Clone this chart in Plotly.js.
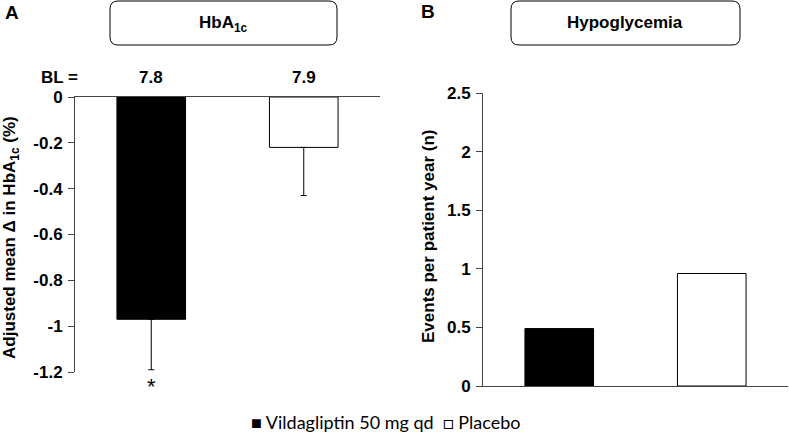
<!DOCTYPE html>
<html>
<head>
<meta charset="utf-8">
<script src="https://cdn.plot.ly/plotly-3.0.1.min.js"></script>
<style>
  html, body { margin: 0; padding: 0; background: #fff; }
  #chart { width: 789px; height: 436px; }
</style>
</head>
<body>
<div id="chart"></div>
<script>
// Data
const groups = ['Vildagliptin 50 mg qd', 'Placebo'];
const baseline = ['7.8', '7.9'];
const hba1cChange = [-0.97, -0.22];
const hba1cErr = [0.22, 0.21];
const hypoRate = [0.49, 0.96];
const barColors = ['#000000', '#ffffff'];

const W = 789, H = 436;
// pixel -> paper helpers
const px = v => v / W;
const py = v => 1 - v / H;

const FAM = 'Liberation Sans';
const tickFont = { family: FAM, size: 17, color: '#000', weight: 'bold' };
const boldFont = { family: FAM, size: 17, color: '#000', weight: 'bold' };

const traces = [
  {
    type: 'bar',
    x: groups,
    y: hba1cChange,
    xaxis: 'x', yaxis: 'y',
    marker: { color: barColors, line: { color: '#000', width: 1 } },
    error_y: {
      type: 'data', symmetric: false,
      array: [0, 0], arrayminus: hba1cErr,
      color: '#000', thickness: 1, width: 3
    },
    showlegend: false,
    hoverinfo: 'skip'
  },
  {
    type: 'bar',
    x: groups,
    y: hypoRate,
    xaxis: 'x2', yaxis: 'y2',
    marker: { color: barColors, line: { color: '#000', width: 1 } },
    showlegend: false,
    hoverinfo: 'skip'
  }
];

// rounded box given in pixels, returned in paper coords
function pathPaper(x0, y0, x1, y1, r) {
  const P = (x, y) => `${px(x)},${py(y)}`;
  return `M ${P(x0 + r, y0)} L ${P(x1 - r, y0)} Q ${P(x1, y0)} ${P(x1, y0 + r)} ` +
         `L ${P(x1, y1 - r)} Q ${P(x1, y1)} ${P(x1 - r, y1)} L ${P(x0 + r, y1)} ` +
         `Q ${P(x0, y1)} ${P(x0, y1 - r)} L ${P(x0, y0 + r)} Q ${P(x0, y0)} ${P(x0 + r, y0)} Z`;
}

const annotations = [
  { text: 'A', x: px(3), y: py(12), xanchor: 'left', yanchor: 'middle', font: { ...boldFont, size: 19 } },
  { text: 'B', x: px(419), y: py(11), xanchor: 'left', yanchor: 'middle', font: { ...boldFont, size: 19 } },
  { text: 'HbA<sub>1c</sub>', x: px(223), y: py(24), xanchor: 'center', yanchor: 'middle', font: boldFont },
  { text: 'Hypoglycemia', x: px(625), y: py(23), xanchor: 'center', yanchor: 'middle', font: boldFont },
  { text: 'BL =', x: px(80), y: py(77), xanchor: 'right', yanchor: 'middle', font: boldFont },
  { text: baseline[0], x: groups[0], y: py(77), xref: 'x', xanchor: 'center', yanchor: 'middle', font: boldFont },
  { text: baseline[1], x: groups[1], y: py(77), xref: 'x', xanchor: 'center', yanchor: 'middle', font: boldFont },
  { text: '*', x: groups[0], y: py(386), xref: 'x', xanchor: 'center', yanchor: 'middle',
    font: { family: FAM, size: 22, color: '#000' } },
  { text: 'Adjusted mean Δ in HbA<sub>1c</sub> (%)', x: px(11), y: py(238), textangle: -90,
    xanchor: 'center', yanchor: 'middle', font: { ...boldFont, size: 17 } },
  { text: 'Events per patient year (n)', x: px(428), y: py(236), textangle: -90,
    xanchor: 'center', yanchor: 'middle', font: { ...boldFont, size: 17 } },
  { text: '■ Vildagliptin 50 mg qd  □ Placebo', x: px(385), y: py(422), xanchor: 'center', yanchor: 'middle',
    font: { family: 'Lato', size: 18, color: '#000' } }
].map(a => Object.assign({ xref: 'paper', yref: 'paper', showarrow: false }, a));

const layout = {
  width: W, height: H,
  margin: { l: 0, r: 0, t: 0, b: 0 },
  paper_bgcolor: '#fff', plot_bgcolor: 'rgba(0,0,0,0)',
  bargap: 0.55,
  showlegend: false,
  xaxis: {
    domain: [px(75), px(380)], anchor: 'y', side: 'top',
    showticklabels: false, ticks: '', showgrid: false, zeroline: false,
    showline: true, linecolor: '#444', linewidth: 1, fixedrange: true
  },
  yaxis: {
    domain: [py(372), py(97)], anchor: 'x', range: [-1.2, 0],
    tickvals: [0, -0.2, -0.4, -0.6, -0.8, -1, -1.2],
    ticktext: ['0', '-0.2', '-0.4', '-0.6', '-0.8', '-1', '-1.2'],
    ticks: 'outside', ticklen: 6, tickcolor: '#444', showgrid: false, zeroline: false,
    showline: true, linecolor: '#444', linewidth: 1, tickfont: tickFont,
    ticklabelstandoff: 2, fixedrange: true
  },
  xaxis2: {
    domain: [px(483), px(788)], anchor: 'y2',
    showticklabels: false, ticks: '', showgrid: false, zeroline: false,
    showline: true, linecolor: '#444', linewidth: 1, fixedrange: true
  },
  yaxis2: {
    domain: [py(386), py(93)], anchor: 'x2', range: [0, 2.5],
    tickvals: [0, 0.5, 1, 1.5, 2, 2.5],
    ticktext: ['0', '0.5', '1', '1.5', '2', '2.5'],
    ticks: 'outside', ticklen: 6, tickcolor: '#444', showgrid: false, zeroline: false,
    showline: true, linecolor: '#444', linewidth: 1, tickfont: tickFont,
    ticklabelstandoff: 2, fixedrange: true
  },
  shapes: [
    { type: 'path', xref: 'paper', yref: 'paper', path: pathPaper(110, 1, 337, 45, 8), line: { color: '#000', width: 1 } },
    { type: 'path', xref: 'paper', yref: 'paper', path: pathPaper(511, 1, 740, 45, 8), line: { color: '#000', width: 1 } }
  ],
  annotations: annotations
};

Plotly.newPlot('chart', traces, layout, { displayModeBar: false, staticPlot: true });
</script>
</body>
</html>
